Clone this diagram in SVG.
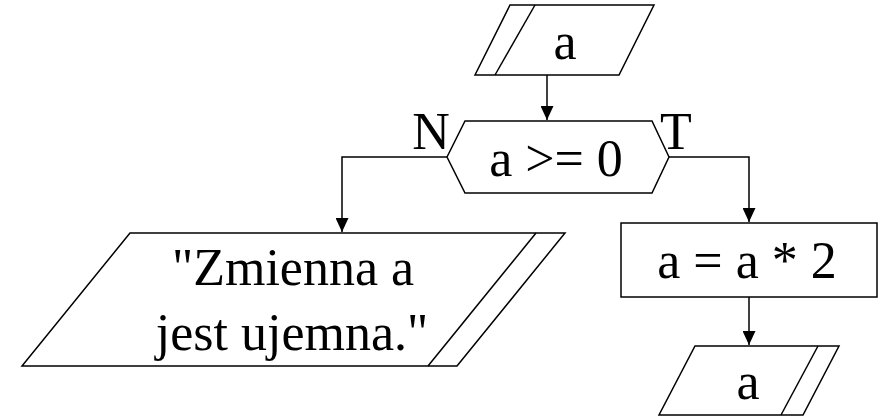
<svg xmlns="http://www.w3.org/2000/svg" width="881" height="416" viewBox="0 0 881 416">
<style>
.s{fill:#fff;stroke:#000;stroke-width:1.5}
.l{fill:none;stroke:#000;stroke-width:1.5}
text{font-family:"Liberation Serif","DejaVu Serif",serif;font-size:52px;fill:#000;text-anchor:middle}
</style>
<defs>
<marker id="ar" viewBox="0 0 14 13" refX="14" refY="6.5" markerWidth="14" markerHeight="13" markerUnits="userSpaceOnUse" orient="auto">
<path d="M0,0 L14,6.5 L0,13 Z" fill="#000"/>
</marker>
</defs>
<rect width="881" height="416" fill="#fff"/>
<g id="connectors">
<line class="l" x1="547" y1="75" x2="547" y2="120" marker-end="url(#ar)"/>
<polyline class="l" points="447,157 342,157 342,232" marker-end="url(#ar)"/>
<polyline class="l" points="669,157 749,157 749,222" marker-end="url(#ar)"/>
<line class="l" x1="749" y1="297" x2="749" y2="345" marker-end="url(#ar)"/>
</g>
<g id="input">
<polygon class="s" points="510,5 654,5 619,75 475,75"/>
<line class="l" x1="535" y1="5" x2="495" y2="75"/>
<text x="565" y="59">a</text>
</g>
<g id="decision">
<polygon class="s" points="447,157 465,121 652,121 669,157 652,193 465,193"/>
<text x="556" y="176">a &gt;= 0</text>
<text x="431" y="149">N</text>
<text x="676" y="149">T</text>
</g>
<g id="output-neg">
<polygon class="s" points="130,233 565,233 457,366 22,366"/>
<line class="l" x1="536" y1="233" x2="428" y2="366"/>
<text x="293" y="285">"Zmienna a</text>
<text x="292" y="350">jest ujemna."</text>
</g>
<g id="process">
<rect class="s" x="621" y="223" width="256" height="74"/>
<text x="747" y="278">a = a * 2</text>
</g>
<g id="output">
<polygon class="s" points="695,346 839,346 803,415 659,415"/>
<line class="l" x1="818" y1="346" x2="781" y2="415"/>
<text x="748" y="399">a</text>
</g>
</svg>
